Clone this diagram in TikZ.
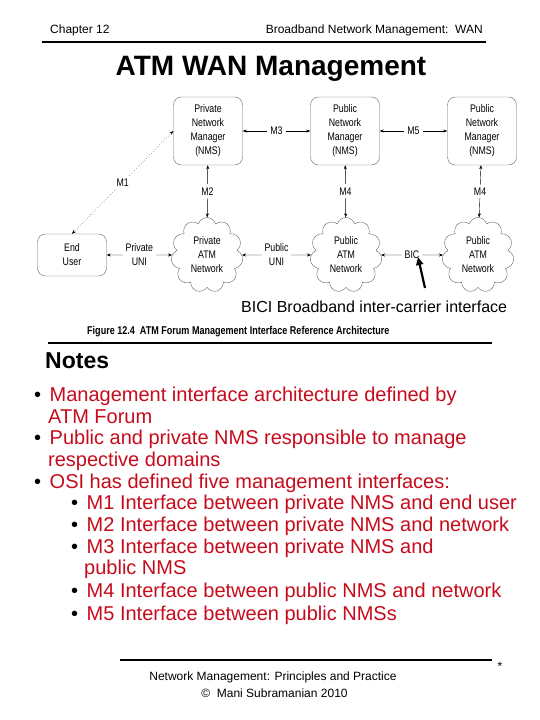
\documentclass[tikz,border=0pt]{standalone}
\usepackage{fontspec}
\setmainfont{Liberation Sans}
\newfontfamily\narrowfont[FakeStretch=0.8]{Liberation Sans}
\usetikzlibrary{shapes.symbols,arrows.meta}
\definecolor{notered}{RGB}{198,12,28}
\newcommand\notebullet{\textcolor{black}{•}\hspace{8.5pt}}

\begin{document}
\begin{tikzpicture}[x=1pt,y=-1pt,
    >={Stealth[length=4pt,width=3pt]},
    notetext/.style={anchor=base west,inner sep=0pt,text=notered,
      font=\fontsize{20}{24}\selectfont}]

  \useasboundingbox[fill=white] (0,0) rectangle (540,720);

  % header
  \node[anchor=base west,inner sep=0pt,font=\fontsize{12}{14}\selectfont] (chapter) at (50,33) {Chapter 12};
  \node[anchor=base east,inner sep=0pt,font=\fontsize{12}{14}\selectfont] (booktitle) at (483,33) {Broadband Network Management:\ \ WAN};
  \draw[line width=2pt] (42,42) -- (486,42);
  \node[anchor=base,inner sep=0pt,font=\bfseries\fontsize{28}{32}\selectfont] (title) at (271,75) {ATM WAN Management};

  % managers and end user
  \begin{scope}[every node/.style={draw=black!60,rounded corners=8pt,align=center,
      minimum width=69pt,minimum height=68pt,font=\narrowfont\fontsize{11}{14}\selectfont}]
    \node (privnms)  at (208,131) {Private\\Network\\Manager\\(NMS)};
    \node (pubnms)   at (345,131) {Public\\Network\\Manager\\(NMS)};
    \node (pubnmsb)  at (482,131) {Public\\Network\\Manager\\(NMS)};
    \node[minimum height=42pt] (enduser) at (72,255) {End\\User};
  \end{scope}

  % networks
  \begin{scope}[every node/.style={cloud,draw=black!60,cloud puffs=11,align=center,
      minimum width=72pt,minimum height=75pt,font=\narrowfont\fontsize{11}{14}\selectfont}]
    \node (privatm) at (207,255) {Private\\ATM\\Network};
    \node (pubatm)  at (346,255) {Public\\ATM\\Network};
    \node (pubatmb) at (478,255) {Public\\ATM\\Network};
  \end{scope}

  % interfaces
  \begin{scope}[every node/.style={fill=white,align=center,inner sep=3pt,
      font=\narrowfont\fontsize{11}{14}\selectfont}]
    \path (enduser.north) edge[<->,dotted] node {M1} (privnms.west);
    \path (privnms) edge[<->] node {M2} (privatm);
    \path (privnms) edge[<->] node {M3} (pubnms);
    \path (pubnms)  edge[<->] node {M5} (pubnmsb);
    \path (pubnms)  edge[<->] node {M4} (pubatm);
    \path (pubnmsb) edge[<->] node {M4} (pubatmb);
    \path (enduser) edge[<->] node {Private\\UNI} (privatm);
    \path (privatm) edge[<->] node {Public\\UNI} (pubatm);
    \path (pubatm)  edge[<->] node {BIC} (pubatmb);
  \end{scope}

  \coordinate (bictail) at (425,288);
  \coordinate (bichead) at (418,257);
  \draw[line width=2.2pt,-{Triangle[length=8pt,width=7pt]}] (bictail) -- (bichead);
  \node[anchor=base west,inner sep=0pt,font=\fontsize{16}{19}\selectfont] (bicinote) at (241,312) {BICI Broadband inter-carrier interface};
  \node[anchor=base west,inner sep=0pt,font=\narrowfont\bfseries\fontsize{11.3}{13}\selectfont] (caption) at (87,334) {Figure 12.4\ \ ATM Forum Management Interface Reference Architecture};
  \draw[line width=1.5pt] (48,343) -- (492,343);

  % notes
  \node[anchor=base west,inner sep=0pt,font=\bfseries\fontsize{23}{26}\selectfont] (notes) at (45,368) {Notes};
  \node[notetext] (note1)  at (34,401)   {\notebullet Management interface architecture defined by};
  \node[notetext] (note1b) at (48,423)   {ATM Forum};
  \node[notetext] (note2)  at (34,444.5) {\notebullet Public and private NMS responsible to manage};
  \node[notetext] (note2b) at (48,466)   {respective domains};
  \node[notetext] (note3)  at (34,488)   {\notebullet OSI has defined five management interfaces:};
  \node[notetext] (m1)  at (71,509) {\notebullet M1 Interface between private NMS and end user};
  \node[notetext] (m2)  at (71,531) {\notebullet M2 Interface between private NMS and network};
  \node[notetext] (m3)  at (71,553) {\notebullet M3 Interface between private NMS and};
  \node[notetext] (m3b) at (84,574) {public NMS};
  \node[notetext] (m4)  at (71,597) {\notebullet M4 Interface between public NMS and network};
  \node[notetext] (m5)  at (71,620) {\notebullet M5 Interface between public NMSs};

  % footer
  \draw[line width=2pt] (120,660) -- (492,660);
  \node[anchor=base,inner sep=0pt,font=\fontsize{12}{14}\selectfont] (bookname) at (273,680.5) {Network Management: Principles and Practice};
  \node[anchor=base,inner sep=0pt,font=\fontsize{12}{14}\selectfont] (copyright) at (274.5,697) {©\ \ Mani Subramanian 2010};
  \node[anchor=base,inner sep=0pt,font=\fontsize{12}{14}\selectfont] (star) at (500,670) {*};

\end{tikzpicture}
\end{document}
